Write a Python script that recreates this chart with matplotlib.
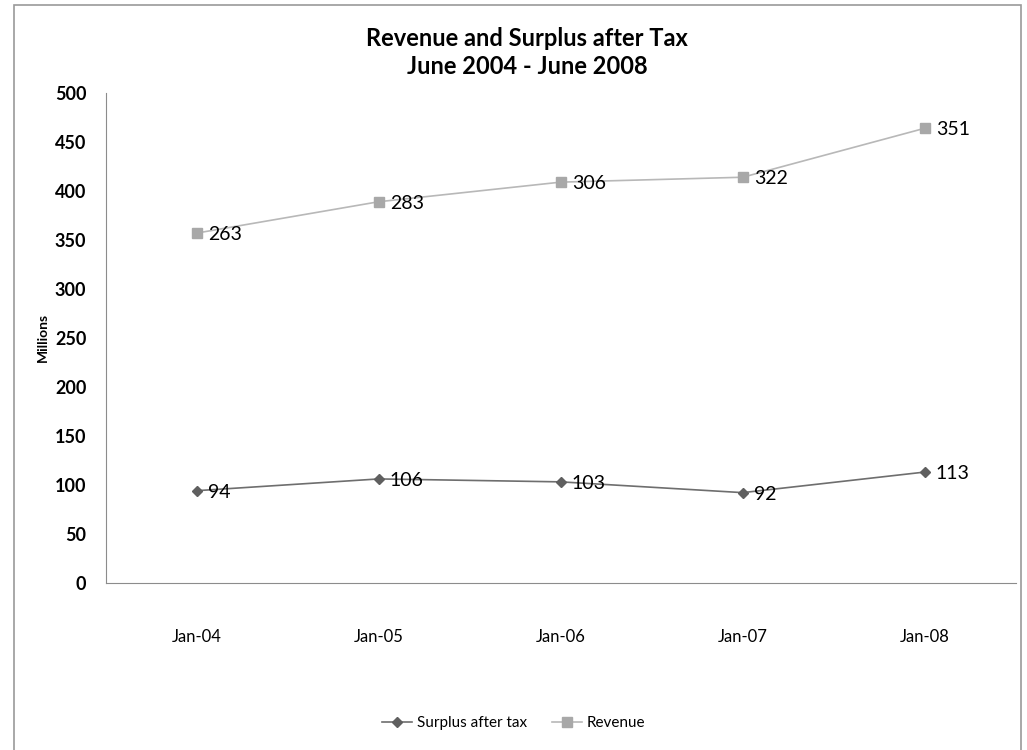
import matplotlib.pyplot as plt
from matplotlib.patches import Rectangle

months = ["Jan-04", "Jan-05", "Jan-06", "Jan-07", "Jan-08"]
surplus = [94, 106, 103, 92, 113]
revenue = [263, 283, 306, 322, 351]

plt.rcParams['font.family'] = ['Lato', 'DejaVu Sans']

fig = plt.figure(figsize=(10.27, 7.5), dpi=100)
ax = fig.add_axes([0.103, 0.223, 0.886, 0.653])

x = list(range(len(months)))
# stacked line chart: revenue sits on top of surplus
stacked = [s + r for s, r in zip(surplus, revenue)]

ax.plot(x, surplus, color="#6e6e6e", lw=1.2, marker="D", ms=5.5, mfc="#5f5f5f", mec="#5f5f5f",
        label="Surplus after tax")
ax.plot(x, stacked, color="#b8b8b8", lw=1.2, marker="s", ms=7.5, mfc="#a8a8a8", mec="#a8a8a8",
        label="Revenue")

for xi, yv, lab in zip(x, surplus, surplus):
    ax.annotate(str(lab), (xi, yv), xytext=(8, -1), textcoords="offset points",
                va="center", ha="left", fontsize=14)
for xi, yv, lab in zip(x, stacked, revenue):
    ax.annotate(str(lab), (xi, yv), xytext=(8, -1), textcoords="offset points",
                va="center", ha="left", fontsize=14)

ax.set_xlim(-0.5, len(months) - 0.5)
ax.set_ylim(0, 500)
ax.set_yticks(range(0, 501, 50))
ax.set_xticks(x)
ax.set_xticklabels(months)
ax.tick_params(axis="x", length=0, pad=33, labelsize=12)
ax.tick_params(axis="y", length=0, pad=14, labelsize=13)
for lbl in ax.get_yticklabels():
    lbl.set_fontweight("bold")
ax.spines["top"].set_visible(False)
ax.spines["right"].set_visible(False)
ax.spines["left"].set_color("#8c8c8c")
ax.spines["bottom"].set_color("#8c8c8c")
ax.set_ylabel("Millions", fontsize=10, fontweight="bold", labelpad=4)

fig.text(0.513, 0.948, "Revenue and Surplus after Tax", ha="center", va="center",
         fontsize=17, fontweight="bold")
fig.text(0.513, 0.912, "June 2004 - June 2008", ha="center", va="center",
         fontsize=17, fontweight="bold")

fig.legend(loc="center", bbox_to_anchor=(0.5, 0.036), ncol=2, frameon=False,
           fontsize=11, handlelength=2.0, handletextpad=0.3, columnspacing=1.6)

fig.patches.append(Rectangle((0.014, -0.01), 0.98, 1.003, transform=fig.transFigure,
                             fill=False, ec="#9a9a9a", lw=1.2))

fig.savefig("out.png", dpi=100)
